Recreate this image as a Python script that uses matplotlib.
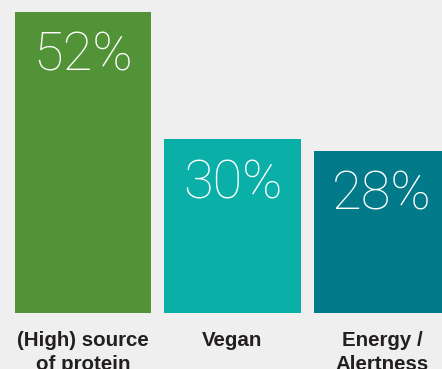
import matplotlib.pyplot as plt

categories = ["(High) source\nof protein", "Vegan", "Energy /\nAlertness"]
values = [52, 30, 28]
labels = ["52%", "30%", "28%"]
colors = ["#529337", "#0aafa7", "#027a89"]

bg = "#eeefee"
fig = plt.figure(figsize=(4.42, 3.69), dpi=100, facecolor=bg)
ax = fig.add_axes([0, 56 / 369, 1, 313 / 369])
ax.set_facecolor(bg)

x = list(range(len(values)))
ax.bar(x, values, width=0.91, color=colors)
ax.set_xlim(-0.555, 2.401)
ax.set_ylim(0, 54.06)

for xi, v, lab in zip(x, values, labels):
    ax.text(xi, v - 7.6, lab, ha="center", va="center", color="white",
            fontsize=39, family="Roboto", fontweight="light")

ax.set_xticks(x)
ax.set_xticklabels(categories, fontsize=14.8, fontweight="bold",
                   family="Liberation Sans", color="#231f20", linespacing=1.3)
ax.tick_params(axis="x", length=0, pad=13)
ax.set_yticks([])
for s in ax.spines.values():
    s.set_visible(False)

fig.savefig("out.png", dpi=100, facecolor=bg)
